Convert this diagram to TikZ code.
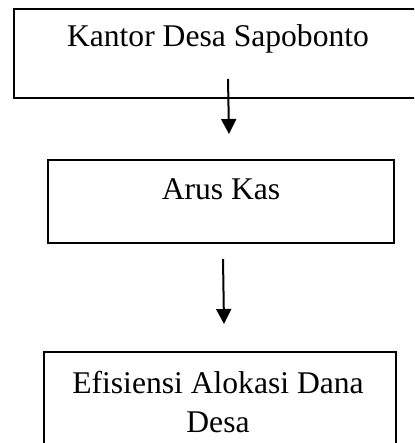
\documentclass[tikz,border=0pt]{standalone}
\usepackage{fontspec}
\setmainfont{Liberation Serif}
\usetikzlibrary{arrows.meta}
\begin{document}
\begin{tikzpicture}[x=1pt,y=-1pt,
  boxstyle/.style={draw=black,line width=2pt,inner sep=0pt},
  txt/.style={font=\fontsize{31.6}{39}\selectfont,inner sep=0pt,anchor=base,align=center},
  arr/.style={line width=2pt,-{Triangle[length=15pt,width=15pt]}}]
\useasboundingbox (0,0) rectangle (414,443);
\begin{scope}
\clip (0,0) rectangle (414,443);
\node[boxstyle,minimum width=430pt,minimum height=89pt,anchor=north west] (box1) at (13,8) {};
\node[boxstyle,minimum width=346pt,minimum height=83pt,anchor=north west] (box2) at (47,159) {};
\node[boxstyle,minimum width=352pt,minimum height=120pt,anchor=north west] (box3) at (43,351) {};
\end{scope}
\node[txt] (t1) at (218,47) {Kantor Desa Sapobonto};
\node[txt] (t2) at (221,200) {Arus Kas};
\node[txt,anchor=north] (t3) at (218,371) {Efisiensi Alokasi Dana\\Desa};
\coordinate (a1s) at (228,79);
\coordinate (a1e) at (229,134);
\coordinate (a2s) at (223,259);
\coordinate (a2e) at (224,324);
\draw[arr] (a1s) -- (a1e);
\draw[arr] (a2s) -- (a2e);
\end{tikzpicture}
\end{document}
